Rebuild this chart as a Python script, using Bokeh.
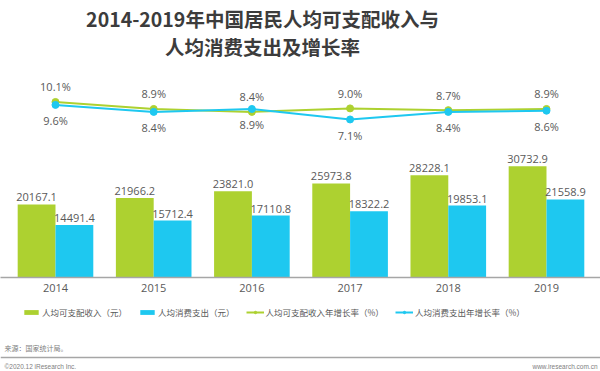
from bokeh.plotting import figure
from bokeh.models import (Range1d, FixedTicker, Legend, LegendItem,
                          ColumnDataSource, Label, Span)
from bokeh.layouts import column
from bokeh.transform import dodge
from bokeh.embed import file_html
from bokeh.resources import INLINE
from bokeh.core.properties import value

# ---- data ----
years = [2014, 2015, 2016, 2017, 2018, 2019]
year_labels = ["2014", "2015", "2016", "2017", "2018", "2019"]
income = [20167.1, 21966.2, 23821.0, 25973.8, 28228.1, 30732.9]
consumption = [14491.4, 15712.4, 17110.8, 18322.2, 19853.1, 21558.9]
income_growth = [10.1, 8.9, 8.4, 9.0, 8.7, 8.9]
consumption_growth = [9.6, 8.4, 8.9, 7.1, 8.4, 8.6]
series_names = ["人均可支配收入（元）", "人均消费支出（元）",
                "人均可支配收入年增长率（%）", "人均消费支出年增长率（%）"]
title_lines = ["2014-2019年中国居民人均可支配收入与", "人均消费支出及增长率"]
source_text = "来源：国家统计局。"
copyright_text = "©2020.12 iResearch Inc."
url_text = "www.iresearch.com.cn"

GREEN = "#add130"
BLUE = "#1ec8f0"
GRAY = "#595959"
CJK = "Noto Sans CJK SC"
NUM = "Open Sans"

src = ColumnDataSource(dict(
    year=years,
    income=income,
    consumption=consumption,
    income_lbl=[f"{v:.1f}" for v in income],
    consumption_lbl=[f"{v:.1f}" for v in consumption],
    ig=income_growth,
    cg=consumption_growth,
    ig_lbl=[f"{v:.1f}%" for v in income_growth],
    cg_lbl=[f"{v:.1f}%" for v in consumption_growth],
))

W = 600

# ---- main chart (frame spans from top of page down to the baseline) ----
p = figure(width=W, height=305, output_backend="svg", toolbar_location=None,
           x_range=Range1d(2013.44, 2019.55), y_range=Range1d(0, 76500),
           y_axis_location=None, min_border_left=0, min_border_right=0,
           min_border_top=0, min_border_bottom=28)
p.outline_line_color = None
p.grid.visible = False
p.title.visible = False

# two-line centred title
for txt, yy in zip(title_lines, [259, 231]):
    p.add_layout(Label(x=262, y=yy, x_units="screen", y_units="screen", text=txt,
                       text_align="center", text_baseline="middle", text_font=CJK,
                       text_font_size="19.5px", text_font_style="bold",
                       text_color="#3c3c3c"))

p.extra_y_ranges = {"rate": Range1d(-20.0, 27.5)}

bw = 0.385
b1 = p.vbar(x=dodge("year", -bw / 2, range=p.x_range), top="income", width=bw,
            source=src, fill_color=GREEN, line_color=None)
b2 = p.vbar(x=dodge("year", bw / 2, range=p.x_range), top="consumption", width=bw,
            source=src, fill_color=BLUE, line_color=None)
p.text(x=dodge("year", -bw / 2, range=p.x_range), y="income", text="income_lbl",
       source=src, text_align="center", text_baseline="bottom", y_offset=-3,
       text_font=value(NUM), text_font_size="11px", text_color=GRAY)
p.text(x=dodge("year", bw / 2, range=p.x_range), y="consumption", text="consumption_lbl",
       source=src, text_align="center", text_baseline="bottom", y_offset=-3,
       text_font=value(NUM), text_font_size="11px", text_color=GRAY)

p.line(x="year", y="ig", source=src, y_range_name="rate", line_color=GREEN, line_width=2)
p.scatter(x="year", y="ig", source=src, y_range_name="rate", size=7,
          fill_color=GREEN, line_color=GREEN)
p.line(x="year", y="cg", source=src, y_range_name="rate", line_color=BLUE, line_width=2)
p.scatter(x="year", y="cg", source=src, y_range_name="rate", size=7,
          fill_color=BLUE, line_color=BLUE)
p.text(x="year", y="ig", text="ig_lbl", source=src, y_range_name="rate",
       text_align="center", text_baseline="middle", y_offset=-15,
       text_font=value(NUM), text_font_size="11px", text_color=GRAY)
p.text(x="year", y="cg", text="cg_lbl", source=src, y_range_name="rate",
       text_align="center", text_baseline="middle", y_offset=16,
       text_font=value(NUM), text_font_size="11px", text_color=GRAY)

ax = p.xaxis[0]
ax.ticker = FixedTicker(ticks=years)
ax.major_label_overrides = {y: lbl for y, lbl in zip(years, year_labels)}
ax.major_tick_line_color = None
ax.minor_tick_line_color = None
ax.axis_line_color = "#a6a6a6"
ax.axis_line_width = 1.5
ax.major_label_standoff = 0
ax.major_label_text_font = NUM
ax.major_label_text_font_size = "11px"
ax.major_label_text_color = GRAY

# ---- legend strip (its renderers sit outside its visible range) ----
lg = figure(width=W, height=14, output_backend="svg", toolbar_location=None,
            x_range=Range1d(0, 1), y_range=Range1d(0, 1),
            x_axis_location=None, y_axis_location=None, min_border=0)
lg.outline_line_color = None
lg.grid.visible = False
r1 = lg.vbar(x="year", top="income", width=bw, source=src, fill_color=GREEN, line_color=None)
r2 = lg.vbar(x="year", top="consumption", width=bw, source=src, fill_color=BLUE, line_color=None)
r3a = lg.line(x="year", y="ig", source=src, line_color=GREEN, line_width=2)
r3b = lg.scatter(x="year", y="ig", source=src, size=6, fill_color=GREEN, line_color=GREEN)
r4a = lg.line(x="year", y="cg", source=src, line_color=BLUE, line_width=2)
r4b = lg.scatter(x="year", y="cg", source=src, size=6, fill_color=BLUE, line_color=BLUE)
legend = Legend(items=[
    LegendItem(label=series_names[0], renderers=[r1]),
    LegendItem(label=series_names[1], renderers=[r2]),
    LegendItem(label=series_names[2], renderers=[r3a, r3b]),
    LegendItem(label=series_names[3], renderers=[r4a, r4b]),
], orientation="horizontal", location="left")
legend.label_text_font = CJK
legend.label_text_font_size = "8.5px"
legend.label_text_color = GRAY
legend.glyph_width = 18
legend.glyph_height = 6
legend.label_standoff = 2
legend.label_height = 10
legend.spacing = 11
legend.padding = 0
legend.margin = 22
legend.border_line_color = None
legend.background_fill_alpha = 0
lg.add_layout(legend)

# ---- footer ----
FH = 52
f = figure(width=W, height=FH, output_backend="svg", toolbar_location=None,
           x_range=Range1d(0, W), y_range=Range1d(0, FH),
           x_axis_location=None, y_axis_location=None, min_border=0)
f.outline_line_color = None
f.grid.visible = False
f.add_layout(Label(x=4, y=24, text=source_text, text_font=CJK, text_font_size="7px",
                   text_color="#808080", text_baseline="middle"))
f.add_layout(Span(location=14, dimension="width", line_color="#a6a6a6", line_width=1.5))
f.add_layout(Label(x=4, y=5, text=copyright_text, text_font="Liberation Sans",
                   text_font_size="6.5px", text_color="#808080", text_baseline="middle"))
f.add_layout(Label(x=W - 3, y=5, text=url_text, text_font="Liberation Sans",
                   text_font_size="6.5px", text_color="#808080", text_baseline="middle",
                   text_align="right"))

layout = column(p, lg, f, spacing=0)
open("out.html", "w").write(file_html(layout, INLINE))
